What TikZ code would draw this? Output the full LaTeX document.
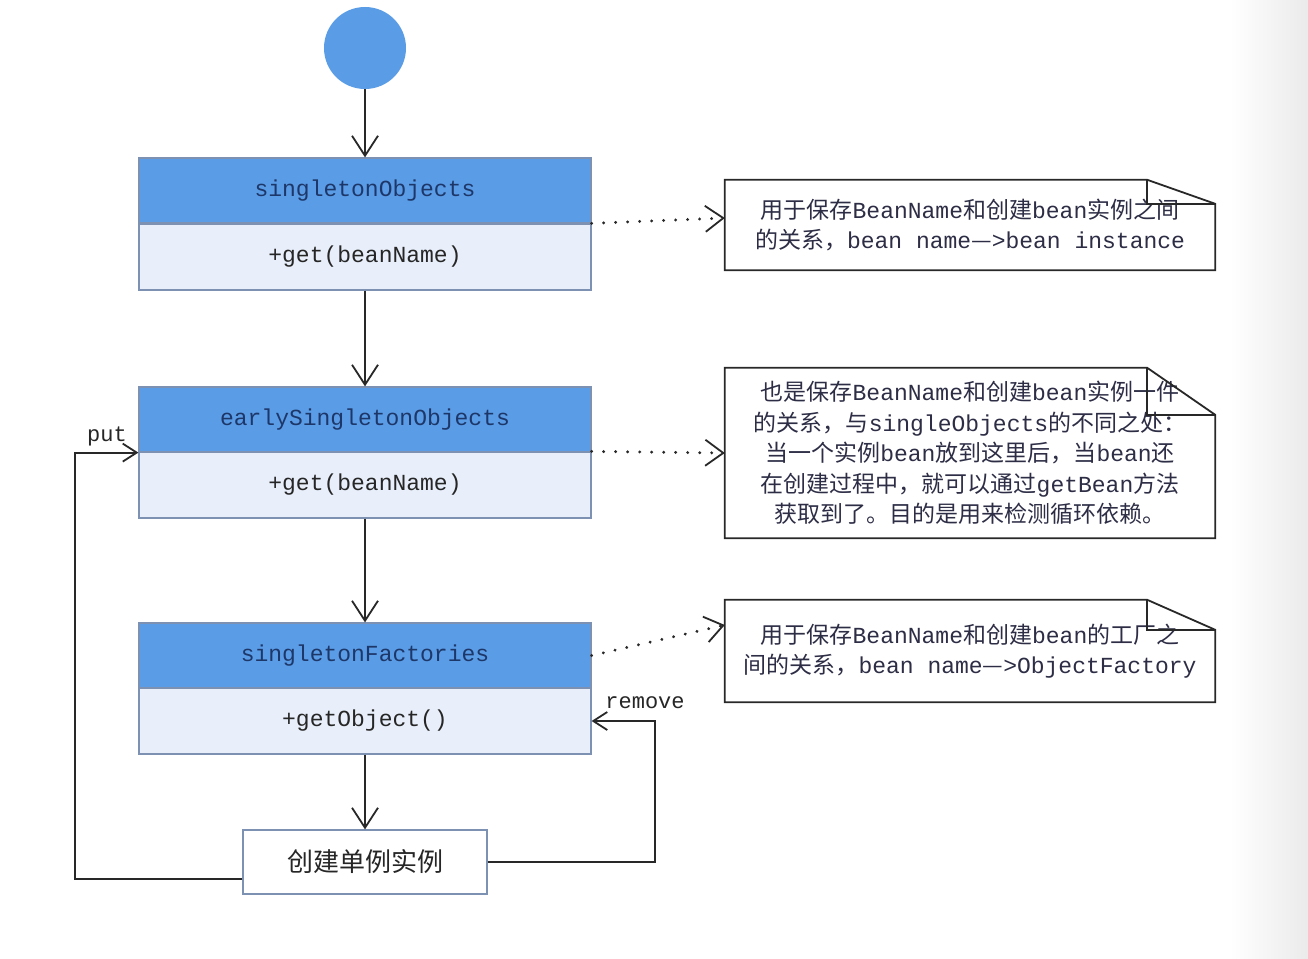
\documentclass[tikz,border=0pt]{standalone}
\usepackage{fontspec}
\setmainfont{Noto Sans CJK SC}
\newfontfamily\mono{Liberation Mono}
\usetikzlibrary{arrows.meta,calc}
\definecolor{hdr}{RGB}{90,156,230}
\definecolor{bdy}{RGB}{232,239,250}
\definecolor{bord}{RGB}{125,145,178}
\definecolor{hdtxt}{RGB}{30,55,105}
\definecolor{ln}{RGB}{40,40,40}
\definecolor{ntxt}{RGB}{45,45,70}
\newcommand\lat[1]{{\mono #1}}
\newcommand\notebox[2]{%
  \draw[notest] (#1.north west) -- ($(#1.north east)+(-68,0)$) -- ($(#1.north east)+(0,#2)$) -- (#1.south east) -- (#1.south west) -- cycle;
  \draw[notest] ($(#1.north east)+(-68,0)$) -- ($(#1.north east)+(-68,#2)$) -- ($(#1.north east)+(0,#2)$);}
\begin{document}
\begin{tikzpicture}[x=1pt,y=-1pt,
  hdrbox/.style={draw=bord,line width=1.2pt,fill=hdr,minimum width=452pt,minimum height=65pt,inner sep=0pt,text=hdtxt,font=\mono\fontsize{23}{28}\selectfont},
  bdybox/.style={draw=bord,line width=1.2pt,fill=bdy,minimum width=452pt,minimum height=66pt,inner sep=0pt,text=black!85,font=\mono\fontsize{23}{28}\selectfont},
  notetext/.style={minimum width=490pt,inner sep=0pt,align=center,text=ntxt,font=\fontsize{23}{30.5}\selectfont},
  notest/.style={draw=ln,line width=1.8pt,line join=miter},
  arr/.style={draw=ln,line width=1.8pt,-{Straight Barb[length=20pt,width=26pt,line width=1.8pt]}},
  sarr/.style={draw=ln,line width=1.8pt,-{Straight Barb[length=14pt,width=18pt,line width=1.8pt]}},
  dotarr/.style={draw=ln,line width=3.2pt,line cap=round,dash pattern=on 0.01pt off 12pt,-{Straight Barb[length=18pt,width=26pt,line width=1.8pt,line cap=butt]}},
  lbl/.style={inner sep=0pt,text=black!85,font=\mono\fontsize{22}{26}\selectfont}]
\useasboundingbox (0,0) rectangle (1308,958);
\fill[white] (0,0) rectangle (1308,958);
\shade[left color=white,right color=black!8] (1230,0) rectangle (1308,958);

\node[circle,fill=hdr,minimum size=82pt,inner sep=0pt] (start) at (365,48) {};

\node[hdrbox] (h1) at (365,190.5) {singletonObjects};
\node[bdybox] (g1) at (365,257) {+get(beanName)};
\node[hdrbox] (h2) at (365,419.5) {earlySingletonObjects};
\node[bdybox] (g2) at (365,485) {+get(beanName)};
\node[hdrbox] (h3) at (365,655.5) {singletonFactories};
\node[bdybox] (g3) at (365,721) {+getObject()};
\node[draw=bord,line width=1.2pt,fill=white,minimum width=244pt,minimum height=64pt,inner sep=0pt,text=black!85,font=\fontsize{26}{30}\selectfont] (b4) at (365,862) {创建单例实例};

\node[notetext,minimum height=90pt] (n1) at (970,225) {用于保存\lat{BeanName}和创建\lat{bean}实例之间\\的关系，\lat{bean name}—\lat{>bean instance}};
\node[notetext,minimum height=170pt] (n2) at (970,453) {也是保存\lat{BeanName}和创建\lat{bean}实例一件\\的关系，与\lat{singleObjects}的不同之处：\\当一个实例\lat{bean}放到这里后，当\lat{bean}还\\在创建过程中，就可以通过\lat{getBean}方法\\获取到了。目的是用来检测循环依赖。};
\node[notetext,minimum height=102pt] (n3) at (970,651) {用于保存\lat{BeanName}和创建\lat{bean}的工厂之\\间的关系，\lat{bean name}—\lat{>ObjectFactory}};
\notebox{n1}{24}
\notebox{n2}{47}
\notebox{n3}{30}

\draw[arr] (start) -- (h1.north);
\draw[arr] (g1.south) -- (h2.north);
\draw[arr] (g2.south) -- (h3.north);
\draw[arr] (g3.south) -- (b4.north);

\draw[dotarr] (g1.north east) -- ($(n1.west)+(0,-7)$);
\draw[dotarr] (g2.north east) -- (n2.west);
\draw[dotarr] (h3.east) -- ($(n3.west)+(0,-26)$);

\coordinate (putc) at (75,879);
\draw[sarr] (putc -| b4.west) -- (putc) |- (h2.south west);
\node[lbl] (putl) at (107,436) {put};

\coordinate (remc) at (655,862);
\draw[sarr] (b4.east) -- (remc) |- (g3.east);
\node[lbl] (reml) at (645,703) {remove};
\end{tikzpicture}
\end{document}
